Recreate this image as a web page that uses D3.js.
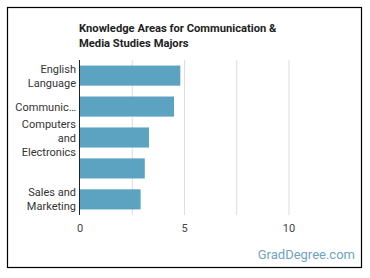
<!DOCTYPE html>
<html>
<head>
<meta charset="utf-8">
<script src="https://cdn.jsdelivr.net/npm/d3@7"></script>
<style>
  body { margin: 0; background: #fff; }
  text { font-family: Roboto, "Open Sans", sans-serif; }
</style>
</head>
<body>
<div id="chart"></div>
<script>
var categories = ["English Language", "Communications and Media", "Computers and Electronics", "Customer and Personal Service", "Sales and Marketing"];
var tickLabels = [["English", "Language"], ["Communic\u2026"], ["Computers", "and", "Electronics"], [], ["Sales and", "Marketing"]];
var values = [4.8, 4.5, 3.3, 3.1, 2.9];
var xTicks = [0, 5, 10];
var gridTicks = [0, 2.5, 5, 7.5, 10];

var W = 370, H = 278;
var svg = d3.select("#chart").append("svg")
    .attr("width", W).attr("height", H);

// frame
svg.append("rect")
    .attr("x", 7.5).attr("y", 7.5)
    .attr("width", 354).attr("height", 260)
    .attr("fill", "#fff").attr("stroke", "#000").attr("stroke-width", 1.2);

// title
var title = svg.append("text")
    .attr("x", 79).attr("y", 32)
    .attr("font-size", 11.2).attr("font-weight", "bold").attr("fill", "#222");
title.append("tspan").attr("x", 79).text("Knowledge Areas for Communication &");
title.append("tspan").attr("x", 79).attr("dy", 14.5).text("Media Studies Majors");

var x = d3.scaleLinear().domain([0, 10]).range([80, 289]);
var y = d3.scaleBand().domain(categories).range([60, 215]).paddingInner(0.35).paddingOuter(0.18);

// gridlines
svg.append("g").selectAll("line")
    .data(gridTicks.slice(1))
    .enter().append("line")
    .attr("x1", d => x(d)).attr("x2", d => x(d))
    .attr("y1", 60).attr("y2", 215)
    .attr("stroke", "#ddd").attr("stroke-width", 1);

// bars
svg.append("g").selectAll("rect")
    .data(values)
    .enter().append("rect")
    .attr("x", x(0))
    .attr("y", (d, i) => y(categories[i]))
    .attr("width", d => x(d) - x(0))
    .attr("height", y.bandwidth())
    .attr("fill", "#5ba3c0");

// y axis line
svg.append("line")
    .attr("x1", 79.5).attr("x2", 79.5)
    .attr("y1", 60).attr("y2", 215)
    .attr("stroke", "#222").attr("stroke-width", 1);

// category labels
svg.append("g").selectAll("text")
    .data(categories)
    .enter().append("text")
    .attr("text-anchor", "end")
    .attr("font-size", 11).attr("fill", "#333")
    .each(function (d, i) {
        var lines = tickLabels[i];
        var cy = y(d) + y.bandwidth() / 2;
        var start = cy - (lines.length - 1) * 14 / 2 + 4;
        var t = d3.select(this);
        lines.forEach(function (l, j) {
            t.append("tspan").attr("x", 76).attr("y", start + j * 14).text(l);
        });
    });

// x tick labels
svg.append("g").selectAll("text")
    .data(xTicks)
    .enter().append("text")
    .attr("x", d => x(d)).attr("y", 232)
    .attr("text-anchor", "middle")
    .attr("font-size", 11).attr("fill", "#444")
    .text(d => d);

// source
svg.append("text")
    .attr("x", 355).attr("y", 259)
    .attr("text-anchor", "end")
    .attr("font-size", 13).attr("fill", "#6fa3bf")
    .text("GradDegree.com");
</script>
</body>
</html>
